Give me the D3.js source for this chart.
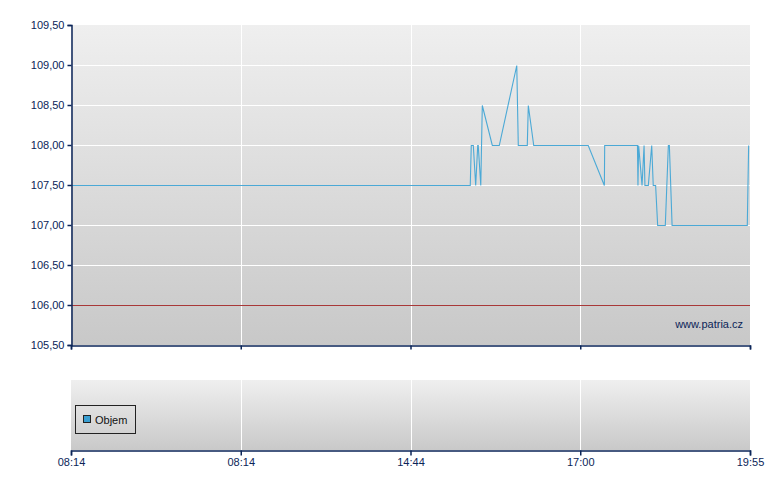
<!DOCTYPE html>
<html><head><meta charset="utf-8">
<script src="https://cdn.jsdelivr.net/npm/d3@7"></script>
<style>body{margin:0;background:#fff}svg{display:block}text{font-family:"Liberation Sans",Arial,sans-serif}</style>
</head><body>
<svg id="c" width="780" height="490"></svg>
<script>
// Data
const xTickLabels = ["08:14","08:14","14:44","17:00","19:55"];
const yTicks = [105.5,106,106.5,107,107.5,108,108.5,109,109.5];
const refLevel = 106.0;
// x positions in session-index units (0..4, one unit per labelled tick)
const priceX = [0,2.352,2.358,2.370,2.384,2.396,2.399,2.414,2.423,2.482,2.523,2.626,2.635,2.688,2.694,2.726,3.047,3.142,3.144,3.337,3.340,3.344,3.364,3.376,3.381,3.401,3.421,3.430,3.444,3.456,3.501,3.519,3.525,3.541,3.984,3.992];
const priceY = [107.5,107.5,108,108,107.5,108,108,107.5,108.5,108,108,109,108,108,108.5,108,108,107.5,108,108,107.5,108,107.5,108,107.5,107.5,108,107.5,107.5,107,107,108,108,107,107,108];
const legendLabel = "Objem";
const watermark = "www.patria.cz";

const svg = d3.select("#c");
const L = 71, R = 750, T = 25, B = 345, T2 = 380, B2 = 450;
const navy = "#0b2558";
const x = d3.scaleLinear().domain([0,4]).range([L,R]);
const y = d3.scaleLinear().domain([105.5,109.5]).range([B,T]);

const defs = svg.append("defs");
const g1 = defs.append("linearGradient").attr("id","bg1").attr("x1",0).attr("y1",0).attr("x2",0).attr("y2",1);
g1.append("stop").attr("offset","0%").attr("stop-color","#efefef");
g1.append("stop").attr("offset","100%").attr("stop-color","#c8c8c8");
const g2 = defs.append("linearGradient").attr("id","bg2").attr("x1",0).attr("y1",0).attr("x2",0).attr("y2",1);
g2.append("stop").attr("offset","0%").attr("stop-color","#efefef");
g2.append("stop").attr("offset","100%").attr("stop-color","#c9c9c9");

svg.append("rect").attr("x",L).attr("y",T).attr("width",R-L).attr("height",B-T).attr("fill","url(#bg1)");
svg.append("rect").attr("x",L).attr("y",T2).attr("width",R-L).attr("height",B2-T2).attr("fill","url(#bg2)");

// grid
const tickIdx = d3.range(xTickLabels.length);
svg.append("g").selectAll("line").data(yTicks.filter(v=>v>105.5 && v<109.5 && v!==refLevel)).join("line")
  .attr("x1",L).attr("x2",R).attr("y1",d=>Math.round(y(d))+0.5).attr("y2",d=>Math.round(y(d))+0.5)
  .attr("stroke","#fff").attr("stroke-width",1);
svg.append("g").selectAll("line").data(tickIdx.filter(i=>i>0 && i<4)).join("line")
  .attr("x1",d=>Math.round(x(d))+0.5).attr("x2",d=>Math.round(x(d))+0.5).attr("y1",T).attr("y2",B)
  .attr("stroke","#fff");
svg.append("g").selectAll("line").data(tickIdx.filter(i=>i>0 && i<4)).join("line")
  .attr("x1",d=>Math.round(x(d))+0.5).attr("x2",d=>Math.round(x(d))+0.5).attr("y1",T2).attr("y2",B2)
  .attr("stroke","#fff");

// reference line
svg.append("line").attr("x1",L).attr("x2",R).attr("y1",Math.round(y(refLevel))+0.5).attr("y2",Math.round(y(refLevel))+0.5)
  .attr("stroke","#a83838").attr("stroke-width",1);

// price line
const pts = priceX.map((d,i)=>[d,priceY[i]]);
svg.append("path").datum(pts).attr("fill","none").attr("stroke","#4ba9d6").attr("stroke-width",1.1)
  .attr("d", d3.line().x(d=>x(d[0])).y(d=>Math.round(y(d[1]))+0.5));

// watermark
svg.append("text").attr("x",743).attr("y",328).attr("text-anchor","end").attr("font-size",11).attr("fill",navy).text(watermark);

// y axis
const yAxis = svg.append("g").attr("transform",`translate(${L+0.5},0)`)
  .call(d3.axisLeft(y).tickValues(yTicks).tickSize(4).tickPadding(3).tickFormat(d=>d3.format(".2f")(d).replace(".",",")));
yAxis.select(".domain").attr("stroke",navy).attr("stroke-width",1.5);
yAxis.selectAll(".tick line").attr("stroke",navy).attr("stroke-width",1.5);
yAxis.selectAll(".tick text").attr("fill",navy).attr("font-size",11).attr("font-family","Liberation Sans, Arial, sans-serif");

// top panel bottom axis
const xAxisTop = svg.append("g").attr("transform",`translate(0,${B+0.5})`)
  .call(d3.axisBottom(x).tickValues(tickIdx).tickSize(4).tickFormat(""));
xAxisTop.select(".domain").attr("stroke",navy).attr("stroke-width",1.5);
xAxisTop.selectAll(".tick line").attr("stroke",navy).attr("stroke-width",1.5);

// bottom panel axis
const xAxis = svg.append("g").attr("transform",`translate(0,${B2+0.5})`)
  .call(d3.axisBottom(x).tickValues(tickIdx).tickSize(5).tickPadding(3).tickFormat(i=>xTickLabels[i]));
xAxis.select(".domain").attr("stroke",navy).attr("stroke-width",1.5);
xAxis.selectAll(".tick line").attr("stroke",navy).attr("stroke-width",1.5);
xAxis.selectAll(".tick text").attr("fill",navy).attr("font-size",11).attr("font-family","Liberation Sans, Arial, sans-serif");

// legend
const lg = svg.append("g");
lg.append("rect").attr("x",75.5).attr("y",405.5).attr("width",60).attr("height",28).attr("fill","none").attr("stroke","#222").attr("stroke-width",1);
lg.append("rect").attr("x",83.5).attr("y",415.5).attr("width",7).attr("height",7).attr("fill","#3a9fd2").attr("stroke","#222");
lg.append("text").attr("x",95).attr("y",423.5).attr("font-size",11).attr("fill","#111").text(legendLabel);
</script>
</body></html>
